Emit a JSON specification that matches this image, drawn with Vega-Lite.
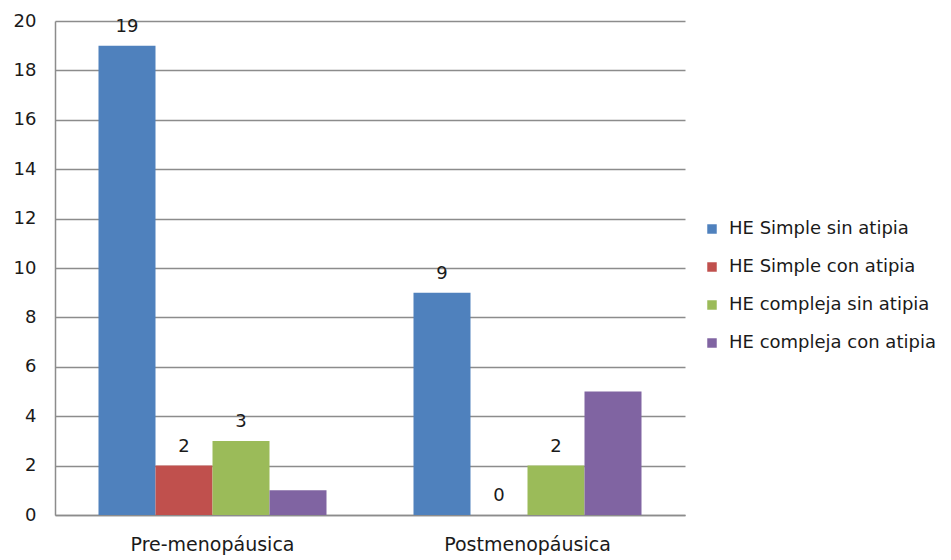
{
  "$schema": "https://vega.github.io/schema/vega-lite/v6.json",
  "autosize": {"type": "none"},
  "width": 630,
  "height": 494,
  "padding": {"left": 55, "top": 21, "right": 266, "bottom": 45},
  "background": "white",
  "config": {
    "font": "DejaVu Sans",
    "view": {"stroke": null}
  },
  "data": {
    "values": [
      {"grupo": "Pre-menopáusica", "tipo": "HE Simple sin atipia", "casos": 19},
      {"grupo": "Pre-menopáusica", "tipo": "HE Simple con atipia", "casos": 2},
      {"grupo": "Pre-menopáusica", "tipo": "HE compleja sin atipia", "casos": 3},
      {"grupo": "Pre-menopáusica", "tipo": "HE compleja con atipia", "casos": 1},
      {"grupo": "Postmenopáusica", "tipo": "HE Simple sin atipia", "casos": 9},
      {"grupo": "Postmenopáusica", "tipo": "HE Simple con atipia", "casos": 0},
      {"grupo": "Postmenopáusica", "tipo": "HE compleja sin atipia", "casos": 2},
      {"grupo": "Postmenopáusica", "tipo": "HE compleja con atipia", "casos": 5}
    ]
  },
  "encoding": {
    "x": {
      "field": "grupo",
      "type": "nominal",
      "sort": ["Pre-menopáusica", "Postmenopáusica"],
      "scale": {"paddingInner": 0, "paddingOuter": 0},
      "axis": {
        "title": null,
        "labelAngle": 0,
        "labelFontSize": 19,
        "labelColor": "#1a1a1a",
        "labelPadding": 20,
        "ticks": false,
        "domain": true,
        "domainColor": "#8c8c8c",
        "domainWidth": 1.5
      }
    },
    "xOffset": {
      "field": "tipo",
      "type": "nominal",
      "sort": ["HE Simple sin atipia", "HE Simple con atipia", "HE compleja sin atipia", "HE compleja con atipia"],
      "scale": {"paddingInner": 0, "paddingOuter": 0.763}
    },
    "y": {
      "field": "casos",
      "type": "quantitative",
      "scale": {"domain": [0, 20], "nice": false},
      "axis": {
        "title": null,
        "values": [0, 2, 4, 6, 8, 10, 12, 14, 16, 18, 20],
        "labelFontSize": 18,
        "labelColor": "#1a1a1a",
        "labelPadding": 19,
        "ticks": false,
        "domain": true,
        "domainColor": "#8c8c8c",
        "domainWidth": 1.5,
        "grid": true,
        "gridColor": "#8c8c8c",
        "gridWidth": 1.5
      }
    }
  },
  "layer": [
    {
      "mark": {"type": "bar"},
      "encoding": {
        "color": {
          "field": "tipo",
          "type": "nominal",
          "sort": ["HE Simple sin atipia", "HE Simple con atipia", "HE compleja sin atipia", "HE compleja con atipia"],
          "scale": {
            "domain": ["HE Simple sin atipia", "HE Simple con atipia", "HE compleja sin atipia", "HE compleja con atipia"],
            "range": ["#4F81BD", "#C0504D", "#9BBB59", "#8064A2"]
          },
          "legend": {
            "title": null,
            "orient": "none",
            "legendX": 648,
            "legendY": 199,
            "symbolType": "square",
            "symbolSize": 90,
            "symbolStrokeWidth": 0,
            "labelFontSize": 18,
            "labelColor": "#1a1a1a",
            "labelOffset": 8,
            "rowPadding": 20,
            "labelLimit": 300
          }
        }
      }
    },
    {
      "transform": [{"filter": "datum.tipo !== 'HE compleja con atipia'"}],
      "mark": {"type": "text", "baseline": "bottom", "dy": -10, "fontSize": 18, "color": "#1a1a1a"},
      "encoding": {
        "text": {"field": "casos", "type": "quantitative"}
      }
    }
  ]
}
